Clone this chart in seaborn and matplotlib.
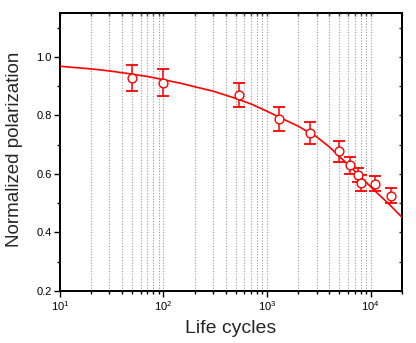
import numpy as np
import pandas as pd
import seaborn as sns
import matplotlib
matplotlib.use("Agg")
import matplotlib.pyplot as plt
from matplotlib.ticker import LogLocator, MultipleLocator, NullFormatter

# measured points
cycles = [50, 100, 530, 1300, 2600, 5000, 6300, 7500, 8000, 11000, 15700]
polar = [0.929, 0.912, 0.870, 0.788, 0.740, 0.677, 0.629, 0.596, 0.568, 0.567, 0.525]
polar_err = [0.045, 0.045, 0.042, 0.040, 0.037, 0.035, 0.028, 0.025, 0.027, 0.026, 0.026]

# fit curve
fit_x = [10, 20, 30, 50, 70, 100, 150, 200, 300, 500, 700, 1000, 1500, 2000, 3000,
         4000, 5000, 6000, 7000, 8000, 10000, 12000, 15000, 20000]
fit_y = [0.968, 0.959, 0.952, 0.941, 0.933, 0.922, 0.909, 0.898, 0.883, 0.858, 0.839,
         0.814, 0.784, 0.763, 0.727, 0.692, 0.659, 0.633, 0.610, 0.590, 0.556, 0.529,
         0.497, 0.452]

sns.set_theme(style="ticks")
plt.rcParams['font.family'] = ['Liberation Sans', 'DejaVu Sans']
plt.rcParams['mathtext.default'] = 'regular'

df = pd.DataFrame({'cycles': cycles, 'polar': polar, 'err': polar_err})
df_fit = pd.DataFrame({'x': fit_x, 'y': fit_y})

fig = plt.figure(figsize=(4.16, 3.43), dpi=100)
ax = fig.add_axes([0.144, 0.152, 0.822, 0.810])

red = '#ff0000'
sns.lineplot(data=df_fit, x='x', y='y', ax=ax, color=red, linewidth=1.2, zorder=3)
ax.errorbar(df.cycles, df.polar, yerr=df.err, fmt='none', ecolor=red,
            elinewidth=1.1, capsize=4, capthick=1.3, zorder=4)
sns.scatterplot(data=df, x='cycles', y='polar', ax=ax, marker='o', s=40,
                facecolor='white', edgecolor=red, linewidth=1.0, zorder=5)

ax.set_xscale('log')
ax.set_xlim(10, 20000)
ax.set_ylim(0.2, 1.15)
ax.xaxis.set_major_locator(LogLocator(base=10))
ax.xaxis.set_minor_locator(LogLocator(base=10, subs=np.arange(2, 10)))
ax.xaxis.set_minor_formatter(NullFormatter())
ax.yaxis.set_minor_locator(MultipleLocator(0.1))
ax.set_yticks([0.2, 0.4, 0.6, 0.8, 1.0])
ax.set_yticklabels(['0.2', '0.4', '0.6', '0.8', '1.0'])

ax.grid(True, which='both', axis='x', linestyle=(0, (1, 1.5)), color='#9a9a9a', linewidth=0.8)
ax.grid(False, axis='y')

for s in ax.spines.values():
    s.set_linewidth(1.4)
    s.set_color('black')

ax.tick_params(which='major', direction='out', length=4, width=1, labelsize=8, colors='black', pad=2)
ax.tick_params(which='minor', direction='out', length=2, width=1, colors='black')

top = ax.secondary_xaxis('top')
top.tick_params(which='both', direction='in', length=2.5, width=1, labelsize=0)
top.xaxis.set_major_locator(LogLocator(base=10))
top.xaxis.set_minor_locator(LogLocator(base=10, subs=np.arange(2, 10)))
top.set_xticklabels([])
top.xaxis.set_minor_formatter(NullFormatter())
right = ax.secondary_yaxis('right')
right.yaxis.set_major_locator(MultipleLocator(0.1))
right.tick_params(which='both', direction='in', length=2.5, width=1, labelsize=0)
right.set_yticklabels([])
for a in (top, right):
    for s in a.spines.values():
        s.set_linewidth(1.4)

ax.set_xlabel('Life cycles', fontsize=14, labelpad=5)
ax.set_ylabel('Normalized polarization', fontsize=13.5)
ax.yaxis.set_label_coords(-0.108, 0.51)

fig.savefig('out.png', dpi=100)
